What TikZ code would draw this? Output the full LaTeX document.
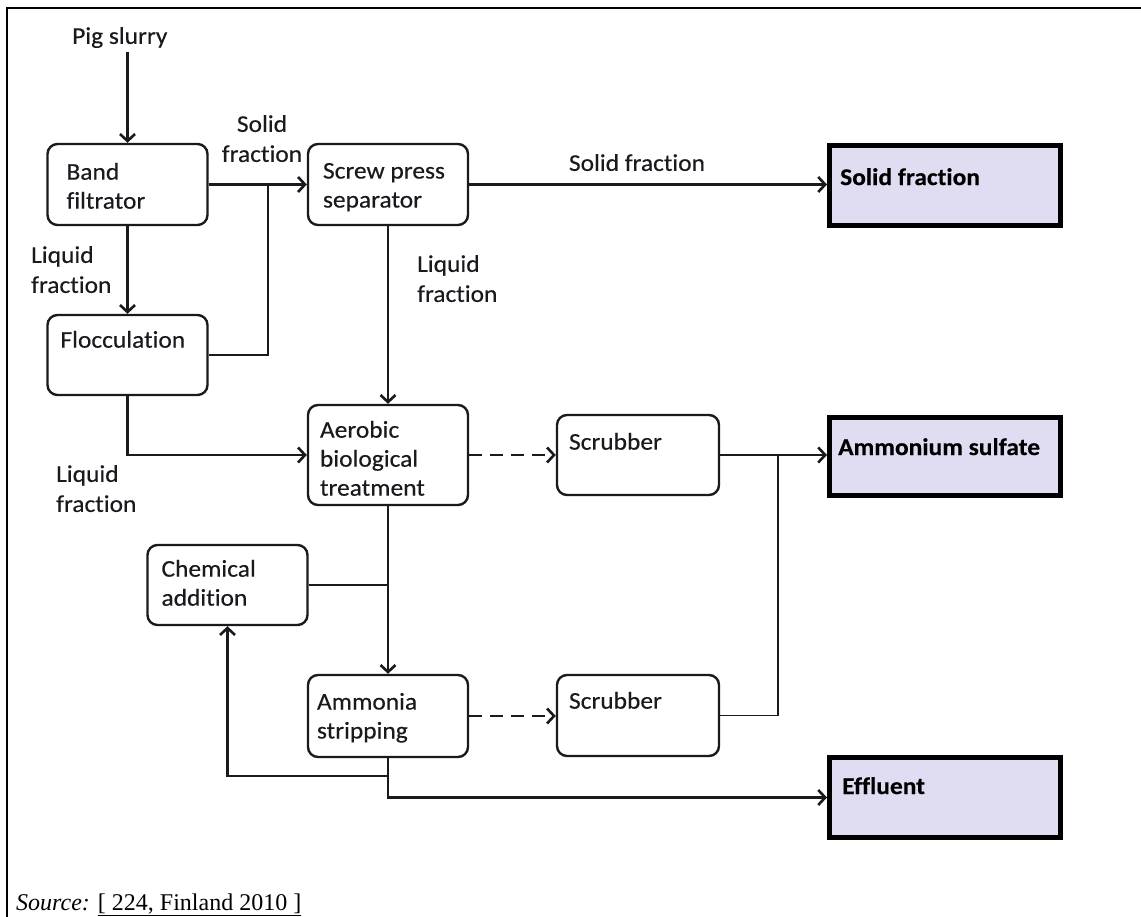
\documentclass[tikz,border=0pt]{standalone}
\usepackage{fontspec}
\setmainfont{Carlito}[FakeStretch=1.06, FakeBold=0.35, Ligatures=NoCommon]
\newfontfamily\srcfont{Liberation Serif}
\usetikzlibrary{arrows.meta,calc}
\definecolor{lav}{RGB}{224,220,242}
\definecolor{ink}{RGB}{25,25,30}
\begin{document}
\begin{tikzpicture}[x=1pt,y=-1pt,
  procbox/.style={draw=ink, line width=2.4pt, rounded corners=10pt, minimum width=160pt, inner sep=0pt},
  outbox/.style={draw=black, fill=lav, line width=5pt, minimum width=231pt, minimum height=80pt, inner sep=0pt},
  boxtext/.style={anchor=north west, inner sep=0pt, align=left, text=ink, font=\fontsize{24}{29}\selectfont},
  boldtext/.style={anchor=north west, inner sep=0pt, text=black, font=\bfseries\fontsize{24}{29}\selectfont},
  lbl/.style={inner sep=0pt, text=ink, font=\fontsize{24}{30}\selectfont},
  flow/.style={draw=ink, line width=2.6pt, -{Straight Barb[length=7pt,width=15pt]}},
  dflow/.style={flow, dash pattern=on 13pt off 8pt},
  link/.style={draw=ink, line width=2.2pt},
  thinlink/.style={draw=ink, line width=1.5pt}
]
\useasboundingbox (0,0) rectangle (1141,917);
% frame
\draw[line width=2.2pt] (7,917) -- (7,8) -- (1141,8);

% process boxes
\node[procbox, minimum height=81pt] (band) at (127.5,184.5) {};
\node[procbox, minimum height=81pt] (screw) at (388,184.5) {};
\node[procbox, minimum height=80pt] (flocc) at (127.5,355) {};
\node[procbox, minimum height=100pt] (aerobic) at (388,455) {};
\node[procbox, minimum height=80pt] (chem) at (227.5,585) {};
\node[procbox, minimum height=82pt] (ammonia) at (388,716) {};
\node[procbox, minimum height=80pt, minimum width=162pt] (scrub1) at (638,455) {};
\node[procbox, minimum height=81pt, minimum width=162pt] (scrub2) at (638,715.5) {};

% output boxes
\node[outbox] (solid) at (945,185.5) {};
\node[outbox, minimum height=78pt] (ammsulf) at (945,456.5) {};
\node[outbox] (effluent) at (945,797.5) {};

% box texts
\node[boxtext] (tband) at ($(band.north west)+(20,20)$) {Band\\filtrator};
\node[boxtext] (tscrew) at ($(screw.north west)+(16,20)$) {Screw press\\separator};
\node[boxtext] (tflocc) at ($(flocc.north west)+(14,17)$) {Flocculation};
\node[boxtext] (taerobic) at ($(aerobic.north west)+(13,17)$) {Aerobic\\biological\\treatment};
\node[boxtext] (tchem) at ($(chem.north west)+(15,16)$) {Chemical\\addition};
\node[boxtext] (tammonia) at ($(ammonia.north west)+(10,19)$) {Ammonia\\stripping};
\node[boxtext] (tscrub1) at ($(scrub1.north west)+(13,19)$) {Scrubber};
\node[boxtext] (tscrub2) at ($(scrub2.north west)+(13,18)$) {Scrubber};
\node[boldtext] (tsolid) at ($(solid.north west)+(13,25)$) {Solid fraction};
\node[boldtext] (tammsulf) at ($(ammsulf.north west)+(11,23)$) {Ammonium sulfate};
\node[boldtext] (teffl) at ($(effluent.north west)+(15,22)$) {Effluent};

% labels
\node[lbl, anchor=north west] (pig) at (72,27) {Pig slurry};
\node[lbl, anchor=north, align=center] (lsolid1) at (262,115) {Solid\\fraction};
\node[lbl, anchor=north west, align=left] (lliq1) at (31,246) {Liquid\\fraction};
\node[lbl, anchor=north west, align=left] (lliq2) at (417,255) {Liquid\\fraction};
\node[lbl, anchor=north] (lsolid2) at (637,154) {Solid fraction};
\node[lbl, anchor=north west, align=left] (lliq3) at (56,465) {Liquid\\fraction};

% junction points
\coordinate (j1) at (268,184.5);
\coordinate (j2) at (778,455);
\coordinate (j4) at (388,776);

% connectors
\draw[flow] ($(pig.south -| band.north)+(0,4)$) -- (band.north);
\draw[flow] (band.east) -- (screw.west);
\draw[link] (flocc.east) -| (j1);
\draw[flow] (band.south) -- (flocc.north);
\draw[flow] (screw.east) -- (screw.east -| solid.west);
\draw[flow] (screw.south) -- (aerobic.north);
\draw[flow] (flocc.south) |- (aerobic.west);
\draw[dflow] (aerobic.east) -- (scrub1.west);
\draw[flow] (scrub1.east) -- (scrub1.east -| ammsulf.west);
\draw[thinlink] (scrub2.east) -| (j2);
\draw[thinlink] (chem.east) -- (chem.east -| aerobic.south);
\draw[flow] (aerobic.south) -- (ammonia.north);
\draw[dflow] (ammonia.east) -- (ammonia.east -| scrub2.west);
\draw[flow] (ammonia.south) |- (effluent.west);
\draw[flow] (j4) -| (chem.south);

% source
\node[anchor=base west, inner sep=0pt, font=\srcfont\fontsize{24}{28}\selectfont] (src) at (16,910) {\textit{Source:} \underline{[ 224, Finland 2010 ]}};
\end{tikzpicture}
\end{document}
